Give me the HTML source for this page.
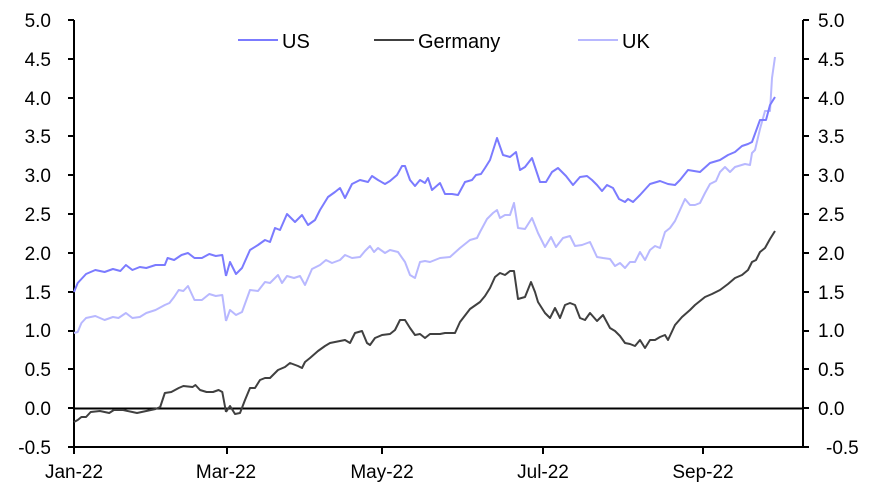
<!DOCTYPE html>
<html><head><meta charset="utf-8"><style>body{margin:0;background:#fff}svg{display:block}text{font-family:"Liberation Sans",Arial,sans-serif;font-size:19px;fill:#000}</style></head><body>
<svg width="886" height="494" xmlns="http://www.w3.org/2000/svg">
<g text-anchor="end">
<text x="51" y="27">5.0</text><text x="51" y="66">4.5</text><text x="51" y="105">4.0</text><text x="51" y="143">3.5</text><text x="51" y="182">3.0</text><text x="51" y="221">2.5</text><text x="51" y="260">2.0</text><text x="51" y="299">1.5</text><text x="51" y="337">1.0</text><text x="51" y="376">0.5</text><text x="51" y="415">0.0</text><text x="51" y="454">-0.5</text>
</g>
<g text-anchor="start">
<text x="818" y="27">5.0</text><text x="818" y="66">4.5</text><text x="818" y="105">4.0</text><text x="818" y="143">3.5</text><text x="818" y="182">3.0</text><text x="818" y="221">2.5</text><text x="818" y="260">2.0</text><text x="818" y="299">1.5</text><text x="818" y="337">1.0</text><text x="818" y="376">0.5</text><text x="818" y="415">0.0</text><text x="826" y="454">-0.5</text>
</g>
<g text-anchor="middle">
<text x="74" y="478">Jan-22</text><text x="226" y="478">Mar-22</text><text x="382" y="478">May-22</text><text x="543" y="478">Jul-22</text><text x="703" y="478">Sep-22</text>
</g>
<g stroke="#000" stroke-width="2" fill="none">
<line x1="74" y1="20" x2="74" y2="448"/><line x1="803" y1="20" x2="803" y2="448"/>
<line x1="74" y1="408.5" x2="803" y2="408.5"/>
<line x1="74" y1="447" x2="803" y2="447"/>
<path d="M68 20H74M68 59H74M68 98H74M68 136H74M68 175H74M68 214H74M68 253H74M68 292H74M68 331H74M68 369H74M68 408H74M68 447H74M803 20H809M803 59H809M803 98H809M803 136H809M803 175H809M803 214H809M803 253H809M803 292H809M803 331H809M803 369H809M803 408H809M803 447H809M74 447V454M227 447V454M382 447V454M543 447V454M703 447V454"/>
</g>
<g fill="none" stroke-width="2" stroke-linejoin="round">
<g transform="translate(74,0) scale(0.9268,1) translate(-62,0)">
<polyline vector-effect="non-scaling-stroke" stroke="#b8b8ff" points="62,333 66,332 70,323 75,318 85,316 95,320 104,317 110,318 118,313 125,318 133,317 140,313 150,310 160,305 165,303 170,297 175,290 180,291 185,286 192,300 200,300 208,294 215,296 222,295 226,321"/>
<polyline vector-effect="non-scaling-stroke" stroke="#404040" points="62,422 66,420 70,417 75,417 80,412 90,411 100,413 105,410 115,410 125,412 130,413 140,411 150,409 155,407 160,393 167,392 175,388 180,386 190,387 193,385 198,390 205,392 212,392 218,390 222,392 226,412"/>
<polyline vector-effect="non-scaling-stroke" stroke="#7b7bff" points="62,292 66,283 75,274 85,270 95,272 104,269 112,271 118,265 125,270 133,267 140,268 150,265 160,265 163,258 170,260 178,255 185,253 192,258 200,258 208,254 215,256 222,255 226,276"/>
</g>
<polyline stroke="#b8b8ff" points="226,321 230,310 236,315 242,312 250,290 258,291 265,282 270,283 278,275 282,283 287,276 294,278 300,276 305,285 312,269 320,265 326,260 332,263 340,260 345,255 352,258 360,257 365,251 370,246 374,252 378,248 385,253 390,250 398,252 405,262 410,275 415,278 420,262 425,261 430,262 440,258 450,257 460,248 470,240 477,238 480,232 487,219 493,213 497,210 500,218 505,215 510,215 514,203 518,228 525,229 532,218 538,233 545,247 551,237 556,247 563,238 570,236 575,246 582,245 590,242 597,257 603,258 610,259 615,266 620,263 625,268 630,262 635,262 640,252 645,260 650,250 655,246 660,248 665,232 670,228 675,221 680,210 685,199 690,205 695,205 700,203 705,193 710,184 716,181 720,172 725,167 730,172 735,167 745,164 750,165 752,153 755,150 760,129 765,111 770,111 772,78 775,57"/>
<polyline stroke="#404040" points="226,412 230,406 235,414 240,413 245,400 250,388 255,388 260,380 265,378 270,378 278,370 285,367 290,363 298,366 302,368 305,362 310,358 318,351 325,346 330,343 340,341 345,340 350,343 355,333 362,331 367,343 370,345 375,338 382,335 390,334 395,330 400,320 405,320 410,328 415,335 420,334 425,338 430,334 440,334 445,333 455,333 460,322 470,309 480,302 485,296 490,288 495,277 500,273 505,275 510,271 514,271 518,299 525,297 531,282 535,292 538,302 545,313 550,318 555,308 560,318 565,305 570,303 575,305 580,318 585,320 590,313 597,321 603,315 610,328 615,331 620,336 625,343 630,344 635,346 640,340 645,348 650,340 655,340 660,337 665,335 668,340 675,325 682,317 690,310 695,305 700,301 705,297 712,294 720,290 728,284 735,278 742,275 748,270 752,262 756,260 760,252 765,248 770,239 775,231"/>
<polyline stroke="#7b7bff" points="226,276 230,262 236,274 242,268 250,250 258,245 265,240 270,242 275,228 280,230 287,214 295,222 302,215 308,225 315,220 320,210 328,197 335,192 340,188 345,198 352,184 360,180 368,182 372,176 378,180 385,184 390,181 397,175 402,166 405,166 410,180 415,186 420,180 425,183 428,178 432,190 440,183 445,194 452,194 458,195 465,182 472,180 476,175 481,174 485,168 490,160 497,138 503,155 510,157 516,152 520,170 525,167 532,158 540,182 546,182 552,172 558,168 566,176 573,185 580,177 587,176 592,180 597,185 602,191 607,185 613,188 619,199 625,202 628,199 633,202 640,195 650,184 660,181 668,184 675,185 680,180 688,170 700,172 710,163 720,160 728,155 735,152 742,146 748,144 752,142 756,131 760,120 766,120 770,105 775,97"/>
<line x1="238" y1="40" x2="278" y2="40" stroke="#7b7bff"/>
<line x1="374" y1="40" x2="414" y2="40" stroke="#404040"/>
<line x1="578" y1="40" x2="618" y2="40" stroke="#b8b8ff"/>
</g>
<text x="282" y="48" style="font-size:20px">US</text>
<text x="418" y="48" style="font-size:20px">Germany</text>
<text x="622" y="48" style="font-size:20px">UK</text>
</svg>
</body></html>
